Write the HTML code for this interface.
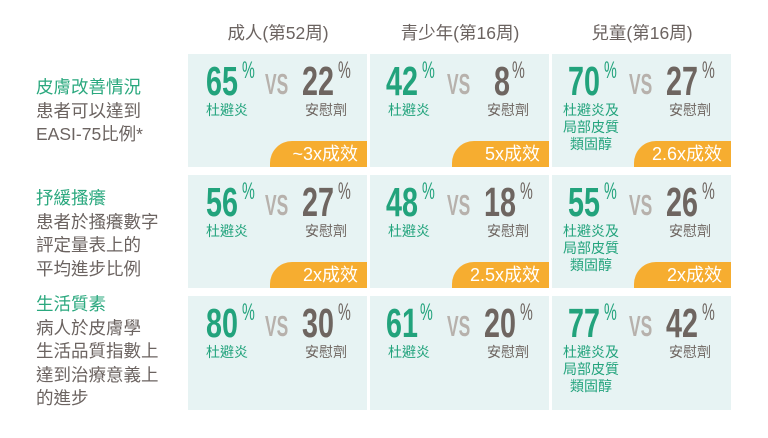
<!DOCTYPE html>
<html><head><meta charset="utf-8"><style>
body{margin:0;width:768px;height:438px;background:#fff;position:relative;overflow:hidden;font-family:"Liberation Sans","Noto Sans CJK TC",sans-serif}
.h{position:absolute;top:20px;width:180px;text-align:center;font-size:17.5px;color:#6b6360}
.lab{position:absolute;left:36px;font-size:17.5px;line-height:23.5px;color:#6b6360}
.lab .g{color:#2aa87e}
.c{position:absolute;width:179px;background:#e7f3f3;overflow:hidden}
.n{position:absolute;top:7px;font-size:41px;line-height:1;font-weight:bold;transform:scaleX(0.7);transform-origin:0 0}
.p{position:absolute;top:5px;font-size:24px;line-height:1;transform:scaleX(0.6);transform-origin:0 0}
.gr{color:#22a37c}.gy{color:#6e6560}
.vs{position:absolute;left:77px;top:17px;font-size:29px;line-height:1;font-weight:bold;color:#b7b1ac;transform:scaleX(0.6);transform-origin:0 0}
.l{position:absolute;top:48px;font-size:14px;line-height:17px}
.b{position:absolute;left:82px;right:0;bottom:0;height:26px;background:#f6ad30;border-top-left-radius:22px;color:#fff;font-size:18px;line-height:27px;text-align:right;padding-right:9px}
</style></head><body>
<div class="h" style="left:188px">成人(第52周)</div>
<div class="h" style="left:370px">青少年(第16周)</div>
<div class="h" style="left:552px">兒童(第16周)</div>

<div class="lab" style="top:76px"><span class="g">皮膚改善情況</span><br>患者可以達到<br>EASI-75比例*</div>
<div class="lab" style="top:187px"><span class="g">抒緩搔癢</span><br>患者於搔癢數字<br>評定量表上的<br>平均進步比例</div>
<div class="lab" style="top:293px"><span class="g">生活質素</span><br>病人於皮膚學<br>生活品質指數上<br>達到治療意義上<br>的進步</div>

<!-- row1 -->
<div class="c" style="left:188px;top:54px;height:113px">
<div class="n gr" style="left:18px">65</div><div class="p gr" style="left:54px">%</div>
<div class="vs">VS</div>
<div class="n gy" style="left:114px">22</div><div class="p gy" style="left:150px">%</div>
<div class="l gr" style="left:18px">杜避炎</div><div class="l gy" style="left:117px">安慰劑</div>
<div class="b">~3x成效</div></div>
<div class="c" style="left:370px;top:54px;height:113px">
<div class="n gr" style="left:16px">42</div><div class="p gr" style="left:52px">%</div>
<div class="vs">VS</div>
<div class="n gy" style="left:124px">8</div><div class="p gy" style="left:142px">%</div>
<div class="l gr" style="left:18px">杜避炎</div><div class="l gy" style="left:117px">安慰劑</div>
<div class="b">5x成效</div></div>
<div class="c" style="left:552px;top:54px;height:113px">
<div class="n gr" style="left:16px">70</div><div class="p gr" style="left:52px">%</div>
<div class="vs">VS</div>
<div class="n gy" style="left:114px">27</div><div class="p gy" style="left:150px">%</div>
<div class="l gr" style="left:11px;text-align:center">杜避炎及<br>局部皮質<br>類固醇</div><div class="l gy" style="left:117px">安慰劑</div>
<div class="b">2.6x成效</div></div>

<!-- row2 -->
<div class="c" style="left:188px;top:175px;height:113px">
<div class="n gr" style="left:18px">56</div><div class="p gr" style="left:54px">%</div>
<div class="vs">VS</div>
<div class="n gy" style="left:114px">27</div><div class="p gy" style="left:150px">%</div>
<div class="l gr" style="left:18px">杜避炎</div><div class="l gy" style="left:117px">安慰劑</div>
<div class="b">2x成效</div></div>
<div class="c" style="left:370px;top:175px;height:113px">
<div class="n gr" style="left:16px">48</div><div class="p gr" style="left:52px">%</div>
<div class="vs">VS</div>
<div class="n gy" style="left:114px">18</div><div class="p gy" style="left:150px">%</div>
<div class="l gr" style="left:18px">杜避炎</div><div class="l gy" style="left:117px">安慰劑</div>
<div class="b">2.5x成效</div></div>
<div class="c" style="left:552px;top:175px;height:113px">
<div class="n gr" style="left:16px">55</div><div class="p gr" style="left:52px">%</div>
<div class="vs">VS</div>
<div class="n gy" style="left:114px">26</div><div class="p gy" style="left:150px">%</div>
<div class="l gr" style="left:11px;text-align:center">杜避炎及<br>局部皮質<br>類固醇</div><div class="l gy" style="left:117px">安慰劑</div>
<div class="b">2x成效</div></div>

<!-- row3 -->
<div class="c" style="left:188px;top:296px;height:114px">
<div class="n gr" style="left:18px">80</div><div class="p gr" style="left:54px">%</div>
<div class="vs">VS</div>
<div class="n gy" style="left:114px">30</div><div class="p gy" style="left:150px">%</div>
<div class="l gr" style="left:18px">杜避炎</div><div class="l gy" style="left:117px">安慰劑</div></div>
<div class="c" style="left:370px;top:296px;height:114px">
<div class="n gr" style="left:16px">61</div><div class="p gr" style="left:50px">%</div>
<div class="vs">VS</div>
<div class="n gy" style="left:114px">20</div><div class="p gy" style="left:150px">%</div>
<div class="l gr" style="left:18px">杜避炎</div><div class="l gy" style="left:117px">安慰劑</div></div>
<div class="c" style="left:552px;top:296px;height:114px">
<div class="n gr" style="left:16px">77</div><div class="p gr" style="left:52px">%</div>
<div class="vs">VS</div>
<div class="n gy" style="left:114px">42</div><div class="p gy" style="left:150px">%</div>
<div class="l gr" style="left:11px;text-align:center">杜避炎及<br>局部皮質<br>類固醇</div><div class="l gy" style="left:117px">安慰劑</div></div>
</body></html>
